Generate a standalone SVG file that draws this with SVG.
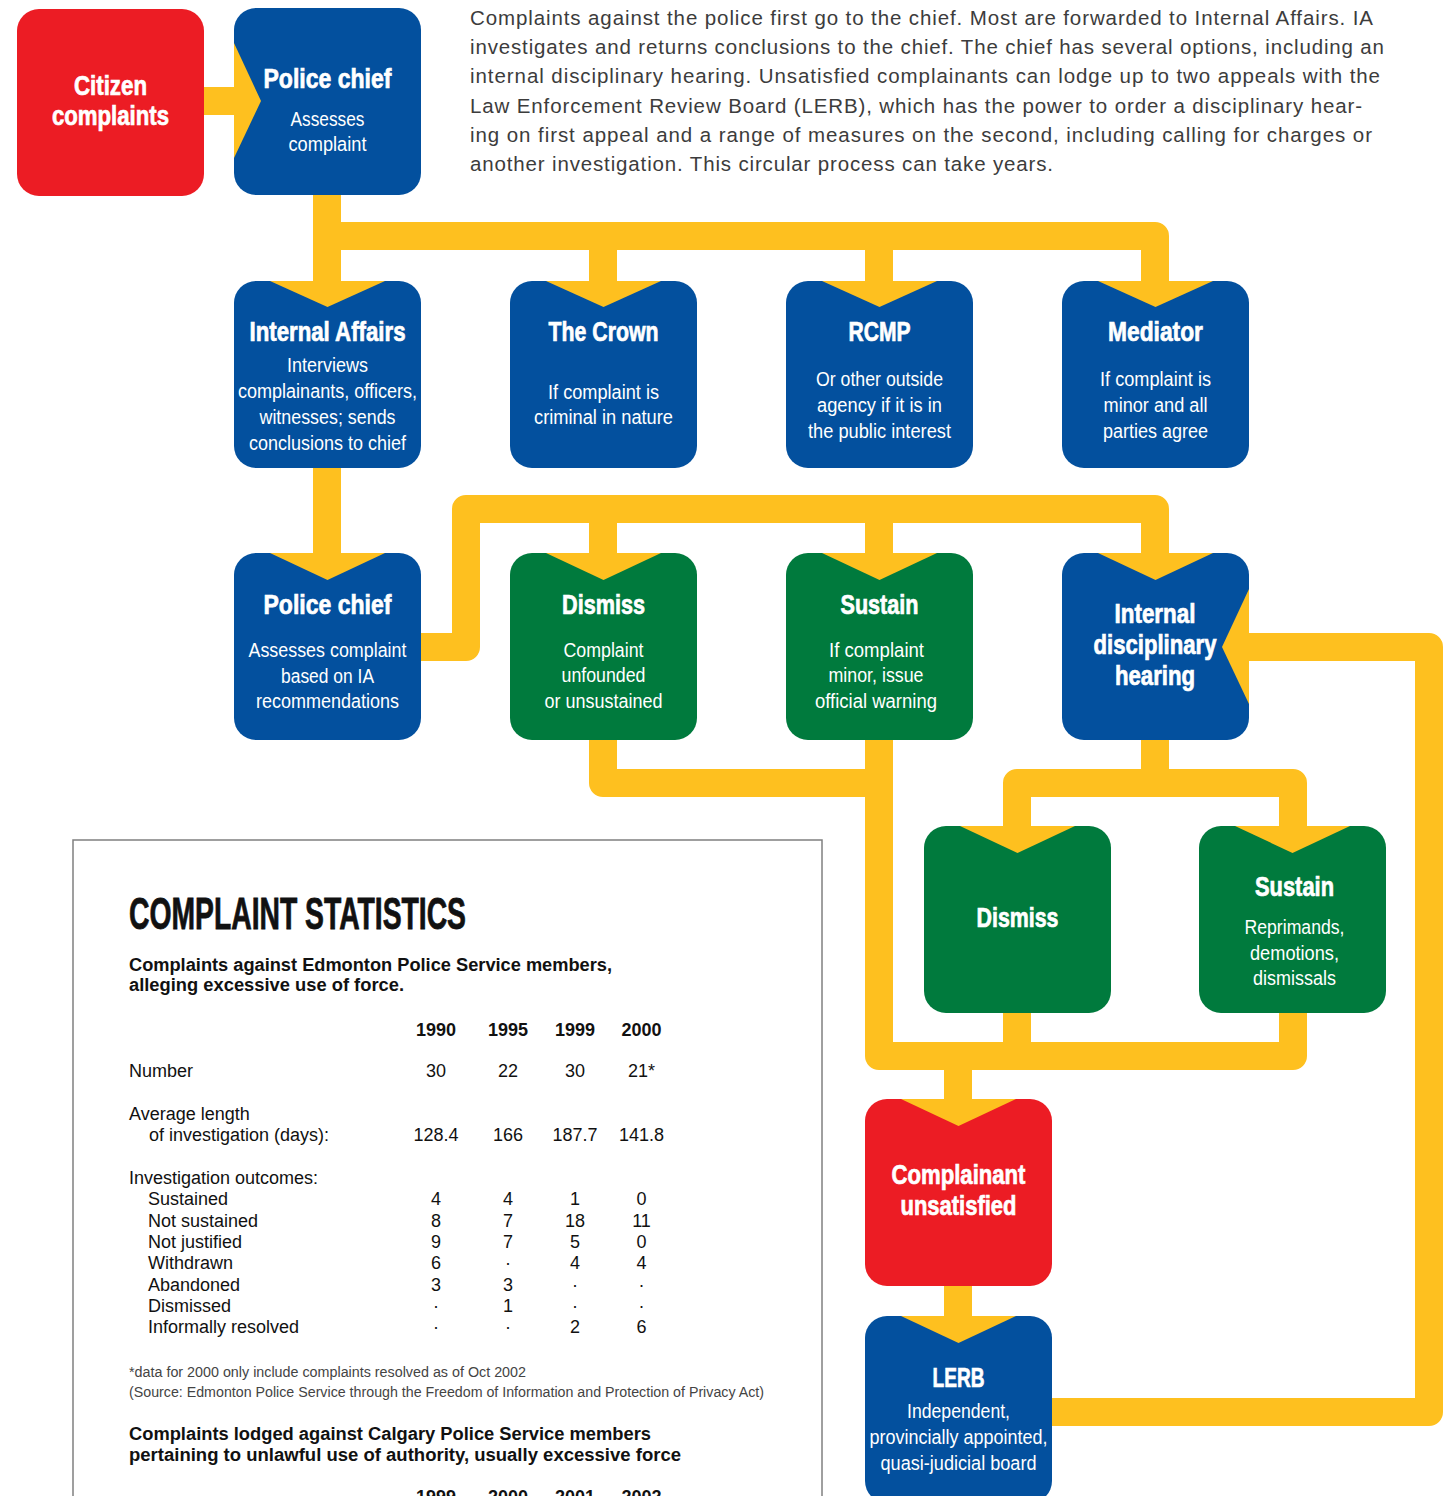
<svg xmlns="http://www.w3.org/2000/svg" width="1451" height="1496" viewBox="0 0 1451 1496">
<style>
.ys{fill:none;stroke:#FEC01F;stroke-width:28;stroke-linejoin:round;stroke-linecap:butt}
.notch{fill:#FEC01F}
.blue{fill:#03509E}.green{fill:#007A3D}.red{fill:#EC1C24}
.tt{font-family:"Liberation Sans",Arial,sans-serif;font-weight:bold;font-size:27px;fill:#fff;stroke:#fff;stroke-width:0.7;text-anchor:middle}
.st{font-family:"Liberation Sans",Arial,sans-serif;font-size:20px;fill:#fff;text-anchor:middle}
.desc{font-family:"Liberation Sans",Arial,sans-serif;font-size:20.5px;fill:#3c3c3c}
.sh{font-family:"Liberation Sans",Arial,sans-serif;font-weight:bold;font-size:44px;fill:#111;stroke:#111;stroke-width:0.8}
.sb{font-family:"Liberation Sans",Arial,sans-serif;font-weight:bold;font-size:18px;fill:#111}
.sr{font-family:"Liberation Sans",Arial,sans-serif;font-size:18px;fill:#111}
.sn{font-family:"Liberation Sans",Arial,sans-serif;font-size:18px;fill:#111;text-anchor:middle}
.sy{font-family:"Liberation Sans",Arial,sans-serif;font-weight:bold;font-size:18px;fill:#111;text-anchor:middle}
.fn{font-family:"Liberation Sans",Arial,sans-serif;font-size:14px;fill:#444}
</style>

<g id="description">
<text class="desc" x="470" y="25" textLength="903" lengthAdjust="spacing">Complaints against the police first go to the chief. Most are forwarded to Internal Affairs. IA</text>
<text class="desc" x="470" y="54" textLength="914" lengthAdjust="spacing">investigates and returns conclusions to the chief. The chief has several options, including an</text>
<text class="desc" x="470" y="83" textLength="910" lengthAdjust="spacing">internal disciplinary hearing. Unsatisfied complainants can lodge up to two appeals with the</text>
<text class="desc" x="470" y="113" textLength="892" lengthAdjust="spacing">Law Enforcement Review Board (LERB), which has the power to order a disciplinary hear-</text>
<text class="desc" x="470" y="142" textLength="902" lengthAdjust="spacing">ing on first appeal and a range of measures on the second, including calling for charges or</text>
<text class="desc" x="470" y="171" textLength="583" lengthAdjust="spacing">another investigation. This circular process can take years.</text>
</g>

<g id="connectors">
<path class="ys" d="M204,101 H236"/>
<path class="ys" d="M327,192 V283"/>
<path class="ys" d="M327,236 H1155 V283"/>
<path class="ys" d="M603,236 V283 M879,236 V283"/>
<path class="ys" d="M327,465 V555"/>
<path class="ys" d="M419,647 H466 V509 H1155 V555"/>
<path class="ys" d="M603,509 V555 M879,509 V555"/>
<path class="ys" d="M603,738 V783 H879"/>
<path class="ys" d="M879,738 V1056 H1293 V1011"/>
<path class="ys" d="M1017,1011 V1056"/>
<path class="ys" d="M958,1056 V1101"/>
<path class="ys" d="M1155,738 V783"/>
<path class="ys" d="M1017,828 V783 H1293 V828"/>
<path class="ys" d="M1247,647 H1429 V1412 H1050"/>
<path class="ys" d="M958,1284 V1318"/>
</g>

<g id="citizen-complaints">
<rect class="red" x="17" y="9" width="187" height="187" rx="22"/>
<text class="tt" x="110.5" y="95" textLength="73" lengthAdjust="spacingAndGlyphs">Citizen</text>
<text class="tt" x="110.5" y="125" textLength="117" lengthAdjust="spacingAndGlyphs">complaints</text>
</g>

<g id="police-chief-1">
<rect class="blue" x="234" y="8" width="187" height="187" rx="22"/>
<polygon class="notch" points="234,43 261,101 234,158"/>
<text class="tt" x="327.5" y="88" textLength="128" lengthAdjust="spacingAndGlyphs">Police chief</text>
<text class="st" x="327.5" y="126" textLength="74" lengthAdjust="spacingAndGlyphs">Assesses</text>
<text class="st" x="327.5" y="151" textLength="78" lengthAdjust="spacingAndGlyphs">complaint</text>
</g>

<g id="internal-affairs">
<rect class="blue" x="234" y="281" width="187" height="187" rx="22"/>
<polygon class="notch" points="270,281 327.5,307 385,281"/>
<text class="tt" x="327.5" y="341" textLength="156" lengthAdjust="spacingAndGlyphs">Internal Affairs</text>
<text class="st" x="327.5" y="372" textLength="81" lengthAdjust="spacingAndGlyphs">Interviews</text>
<text class="st" x="327.5" y="398" textLength="179" lengthAdjust="spacingAndGlyphs">complainants, officers,</text>
<text class="st" x="327.5" y="424" textLength="136" lengthAdjust="spacingAndGlyphs">witnesses; sends</text>
<text class="st" x="327.5" y="450" textLength="157" lengthAdjust="spacingAndGlyphs">conclusions to chief</text>
</g>

<g id="the-crown">
<rect class="blue" x="510" y="281" width="187" height="187" rx="22"/>
<polygon class="notch" points="546,281 603.5,307 661,281"/>
<text class="tt" x="603.5" y="341" textLength="110" lengthAdjust="spacingAndGlyphs">The Crown</text>
<text class="st" x="603.5" y="399" textLength="111" lengthAdjust="spacingAndGlyphs">If complaint is</text>
<text class="st" x="603.5" y="424" textLength="139" lengthAdjust="spacingAndGlyphs">criminal in nature</text>
</g>

<g id="rcmp">
<rect class="blue" x="786" y="281" width="187" height="187" rx="22"/>
<polygon class="notch" points="822,281 879.5,307 937,281"/>
<text class="tt" x="879.5" y="341" textLength="62" lengthAdjust="spacingAndGlyphs">RCMP</text>
<text class="st" x="879.5" y="386" textLength="127" lengthAdjust="spacingAndGlyphs">Or other outside</text>
<text class="st" x="879.5" y="412" textLength="125" lengthAdjust="spacingAndGlyphs">agency if it is in</text>
<text class="st" x="879.5" y="438" textLength="143" lengthAdjust="spacingAndGlyphs">the public interest</text>
</g>

<g id="mediator">
<rect class="blue" x="1062" y="281" width="187" height="187" rx="22"/>
<polygon class="notch" points="1098,281 1155.5,307 1213,281"/>
<text class="tt" x="1155.5" y="341" textLength="95" lengthAdjust="spacingAndGlyphs">Mediator</text>
<text class="st" x="1155.5" y="386" textLength="111" lengthAdjust="spacingAndGlyphs">If complaint is</text>
<text class="st" x="1155.5" y="412" textLength="104" lengthAdjust="spacingAndGlyphs">minor and all</text>
<text class="st" x="1155.5" y="438" textLength="105" lengthAdjust="spacingAndGlyphs">parties agree</text>
</g>

<g id="police-chief-2">
<rect class="blue" x="234" y="553" width="187" height="187" rx="22"/>
<polygon class="notch" points="270,553 327.5,580 385,553"/>
<text class="tt" x="327.5" y="614" textLength="128" lengthAdjust="spacingAndGlyphs">Police chief</text>
<text class="st" x="327.5" y="657" textLength="158" lengthAdjust="spacingAndGlyphs">Assesses complaint</text>
<text class="st" x="327.5" y="683" textLength="93" lengthAdjust="spacingAndGlyphs">based on IA</text>
<text class="st" x="327.5" y="708" textLength="143" lengthAdjust="spacingAndGlyphs">recommendations</text>
</g>

<g id="dismiss-1">
<rect class="green" x="510" y="553" width="187" height="187" rx="22"/>
<polygon class="notch" points="546,553 603.5,580 661,553"/>
<text class="tt" x="603.5" y="614" textLength="83" lengthAdjust="spacingAndGlyphs">Dismiss</text>
<text class="st" x="603.5" y="657" textLength="80" lengthAdjust="spacingAndGlyphs">Complaint</text>
<text class="st" x="603.5" y="682" textLength="84" lengthAdjust="spacingAndGlyphs">unfounded</text>
<text class="st" x="603.5" y="708" textLength="118" lengthAdjust="spacingAndGlyphs">or unsustained</text>
</g>

<g id="sustain-1">
<rect class="green" x="786" y="553" width="187" height="187" rx="22"/>
<polygon class="notch" points="822,553 879.5,580 937,553"/>
<text class="tt" x="879.5" y="614" textLength="78" lengthAdjust="spacingAndGlyphs">Sustain</text>
<text class="st" x="876.5" y="657" textLength="95" lengthAdjust="spacingAndGlyphs">If complaint</text>
<text class="st" x="876" y="682" textLength="95" lengthAdjust="spacingAndGlyphs">minor, issue</text>
<text class="st" x="876" y="708" textLength="122" lengthAdjust="spacingAndGlyphs">official warning</text>
</g>

<g id="internal-disciplinary-hearing">
<rect class="blue" x="1062" y="553" width="187" height="187" rx="22"/>
<polygon class="notch" points="1098,553 1155.5,580 1213,553"/>
<polygon class="notch" points="1249,589 1222,647 1249,704"/>
<text class="tt" x="1155" y="623" textLength="81" lengthAdjust="spacingAndGlyphs">Internal</text>
<text class="tt" x="1155" y="654" textLength="123" lengthAdjust="spacingAndGlyphs">disciplinary</text>
<text class="tt" x="1155" y="685" textLength="80" lengthAdjust="spacingAndGlyphs">hearing</text>
</g>

<g id="dismiss-2">
<rect class="green" x="924" y="826" width="187" height="187" rx="22"/>
<polygon class="notch" points="960,826 1017.5,853 1075,826"/>
<text class="tt" x="1017.5" y="927" textLength="82" lengthAdjust="spacingAndGlyphs">Dismiss</text>
</g>

<g id="sustain-2">
<rect class="green" x="1199" y="826" width="187" height="187" rx="22"/>
<polygon class="notch" points="1235,826 1292.5,853 1350,826"/>
<text class="tt" x="1294.5" y="896" textLength="79" lengthAdjust="spacingAndGlyphs">Sustain</text>
<text class="st" x="1294.5" y="934" textLength="100" lengthAdjust="spacingAndGlyphs">Reprimands,</text>
<text class="st" x="1294.5" y="960" textLength="89" lengthAdjust="spacingAndGlyphs">demotions,</text>
<text class="st" x="1294.5" y="985" textLength="83" lengthAdjust="spacingAndGlyphs">dismissals</text>
</g>

<g id="complainant-unsatisfied">
<rect class="red" x="865" y="1099" width="187" height="187" rx="22"/>
<polygon class="notch" points="901,1099 958.5,1126 1016,1099"/>
<text class="tt" x="958.5" y="1184" textLength="134" lengthAdjust="spacingAndGlyphs">Complainant</text>
<text class="tt" x="958.5" y="1215" textLength="116" lengthAdjust="spacingAndGlyphs">unsatisfied</text>
</g>

<g id="lerb">
<rect class="blue" x="865" y="1316" width="187" height="187" rx="22"/>
<polygon class="notch" points="901,1316 958.5,1343 1016,1316"/>
<text class="tt" x="958.5" y="1387" textLength="52" lengthAdjust="spacingAndGlyphs">LERB</text>
<text class="st" x="958.5" y="1418" textLength="103" lengthAdjust="spacingAndGlyphs">Independent,</text>
<text class="st" x="958.5" y="1444" textLength="178" lengthAdjust="spacingAndGlyphs">provincially appointed,</text>
<text class="st" x="958.5" y="1470" textLength="156" lengthAdjust="spacingAndGlyphs">quasi-judicial board</text>
</g>

<g id="complaint-statistics">
<rect x="73" y="840" width="749" height="700" fill="none" stroke="#808080" stroke-width="1.5"/>
<text class="sh" x="129" y="929" textLength="337" lengthAdjust="spacingAndGlyphs">COMPLAINT STATISTICS</text>
<text class="sb" x="129" y="971" textLength="483" lengthAdjust="spacingAndGlyphs">Complaints against Edmonton Police Service members,</text>
<text class="sb" x="129" y="991" textLength="275" lengthAdjust="spacingAndGlyphs">alleging excessive use of force.</text>
<text class="sy" x="436" y="1036">1990</text>
<text class="sy" x="508" y="1036">1995</text>
<text class="sy" x="575" y="1036">1999</text>
<text class="sy" x="641.5" y="1036">2000</text>
<text class="sr" x="129" y="1077">Number</text>
<text class="sn" x="436" y="1077">30</text>
<text class="sn" x="508" y="1077">22</text>
<text class="sn" x="575" y="1077">30</text>
<text class="sn" x="641.5" y="1077">21*</text>
<text class="sr" x="129" y="1120">Average length</text>
<text class="sr" x="149" y="1141">of investigation (days):</text>
<text class="sn" x="436" y="1141">128.4</text>
<text class="sn" x="508" y="1141">166</text>
<text class="sn" x="575" y="1141">187.7</text>
<text class="sn" x="641.5" y="1141">141.8</text>
<text class="sr" x="129" y="1184">Investigation outcomes:</text>
<text class="sr" x="148" y="1205">Sustained</text>
<text class="sr" x="148" y="1227">Not sustained</text>
<text class="sr" x="148" y="1248">Not justified</text>
<text class="sr" x="148" y="1269">Withdrawn</text>
<text class="sr" x="148" y="1291">Abandoned</text>
<text class="sr" x="148" y="1312">Dismissed</text>
<text class="sr" x="148" y="1333">Informally resolved</text>
<text class="sn" x="436" y="1205">4</text><text class="sn" x="508" y="1205">4</text><text class="sn" x="575" y="1205">1</text><text class="sn" x="641.5" y="1205">0</text>
<text class="sn" x="436" y="1227">8</text><text class="sn" x="508" y="1227">7</text><text class="sn" x="575" y="1227">18</text><text class="sn" x="641.5" y="1227">11</text>
<text class="sn" x="436" y="1248">9</text><text class="sn" x="508" y="1248">7</text><text class="sn" x="575" y="1248">5</text><text class="sn" x="641.5" y="1248">0</text>
<text class="sn" x="436" y="1269">6</text><text class="sn" x="508" y="1269">·</text><text class="sn" x="575" y="1269">4</text><text class="sn" x="641.5" y="1269">4</text>
<text class="sn" x="436" y="1291">3</text><text class="sn" x="508" y="1291">3</text><text class="sn" x="575" y="1291">·</text><text class="sn" x="641.5" y="1291">·</text>
<text class="sn" x="436" y="1312">·</text><text class="sn" x="508" y="1312">1</text><text class="sn" x="575" y="1312">·</text><text class="sn" x="641.5" y="1312">·</text>
<text class="sn" x="436" y="1333">·</text><text class="sn" x="508" y="1333">·</text><text class="sn" x="575" y="1333">2</text><text class="sn" x="641.5" y="1333">6</text>
<text class="fn" x="129" y="1377" textLength="397" lengthAdjust="spacingAndGlyphs">*data for 2000 only include complaints resolved as of Oct 2002</text>
<text class="fn" x="129" y="1397" textLength="635" lengthAdjust="spacingAndGlyphs">(Source: Edmonton Police Service through the Freedom of Information and Protection of Privacy Act)</text>
<text class="sb" x="129" y="1440" textLength="522" lengthAdjust="spacingAndGlyphs">Complaints lodged against Calgary Police Service members</text>
<text class="sb" x="129" y="1461" textLength="552" lengthAdjust="spacingAndGlyphs">pertaining to unlawful use of authority, usually excessive force</text>
<text class="sy" x="436" y="1503">1999</text>
<text class="sy" x="508" y="1503">2000</text>
<text class="sy" x="575" y="1503">2001</text>
<text class="sy" x="641.5" y="1503">2002</text>
</g>
</svg>
